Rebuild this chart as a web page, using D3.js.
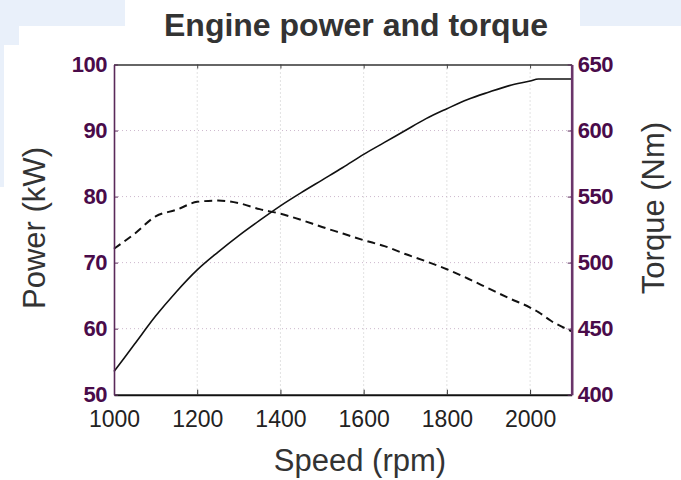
<!DOCTYPE html>
<html>
<head>
<meta charset="utf-8">
<script src="https://cdn.jsdelivr.net/npm/d3@7"></script>
<style>
  html, body { margin: 0; padding: 0; background: #ffffff; }
  svg { display: block; }
</style>
</head>
<body>
<svg id="chart" width="681" height="480"></svg>
<script>
// ---- data ----
const speedRpm = [1000, 1050, 1100, 1150, 1200, 1250, 1300, 1350, 1400, 1450, 1500, 1550,
                  1600, 1650, 1700, 1750, 1800, 1850, 1900, 1950, 2000, 2020, 2050, 2100];
const powerKW = [53.5, 57.7, 61.9, 65.6, 68.9, 71.6, 74.1, 76.4, 78.6, 80.6, 82.5, 84.4,
                 86.4, 88.2, 90.0, 91.8, 93.3, 94.7, 95.8, 96.8, 97.5, 97.8, 97.8, 97.8];
const torqueNm = [510.5, 522, 535, 540, 546, 547, 545, 540.5, 537, 532.3, 527, 522,
                  517, 512.5, 506.5, 501, 495, 488, 480.5, 473, 466, 462.5, 456, 448];
const xTicks = [1000, 1200, 1400, 1600, 1800, 2000];
const powerTicks = [50, 60, 70, 80, 90, 100];
const torqueTicks = [400, 450, 500, 550, 600, 650];
const titleText = "Engine power and torque";
const xLabel = "Speed (rpm)";
const yLeftLabel = "Power (kW)";
const yRightLabel = "Torque (Nm)";

// ---- layout ----
const svg = d3.select("#chart");
const L = 114, R = 571.7, T = 64.5, B = 394.7;
const purpleText = "#4a0b4a";
const font = "'Liberation Sans', Arial, sans-serif";

// background (slide-like)
svg.append("rect").attr("x", 0).attr("y", 0).attr("width", 681).attr("height", 480).attr("fill", "#e9f0fa");
svg.append("rect").attr("x", 125).attr("y", 0).attr("width", 455).attr("height", 480).attr("fill", "#ffffff");
svg.append("rect").attr("x", 19).attr("y", 26).attr("width", 662).attr("height", 454).attr("fill", "#ffffff");
svg.append("rect").attr("x", 4).attr("y", 45).attr("width", 677).attr("height", 435).attr("fill", "#ffffff");
svg.append("rect").attr("x", 0).attr("y", 187).attr("width", 681).attr("height", 293).attr("fill", "#ffffff");

const x = d3.scaleLinear().domain([1000, 2100]).range([L, R]);
const yP = d3.scaleLinear().domain([50, 100]).range([B, T]);
const yT = d3.scaleLinear().domain([400, 650]).range([B, T]);

// grid
const grid = svg.append("g");
grid.selectAll("line.vg").data(xTicks.slice(1)).enter().append("line")
  .attr("x1", d => x(d)).attr("x2", d => x(d)).attr("y1", T).attr("y2", B)
  .attr("stroke", "#c4c4c4").attr("stroke-width", 1).attr("stroke-dasharray", "1,3");
grid.selectAll("line.hg").data(powerTicks.slice(1, -1)).enter().append("line")
  .attr("x1", L).attr("x2", R).attr("y1", d => yP(d)).attr("y2", d => yP(d))
  .attr("stroke", "#cdb8cd").attr("stroke-width", 1).attr("stroke-dasharray", "1,3");

// lines
const powerLine = d3.line().x((d, i) => x(speedRpm[i])).y(d => yP(d)).curve(d3.curveMonotoneX);
const torqueLine = d3.line().x((d, i) => x(speedRpm[i])).y(d => yT(d)).curve(d3.curveMonotoneX);
svg.append("path").attr("d", powerLine(powerKW)).attr("fill", "none")
  .attr("stroke", "#111").attr("stroke-width", 1.6);
svg.append("path").attr("d", torqueLine(torqueNm)).attr("fill", "none")
  .attr("stroke", "#111").attr("stroke-width", 2).attr("stroke-dasharray", "8,5");

// axes
const gTop = svg.append("g").attr("transform", `translate(0,${T})`)
  .call(d3.axisTop(x).tickValues(xTicks).tickSize(-4).tickSizeOuter(0).tickFormat(""));
gTop.select(".domain").attr("stroke", "#333").attr("stroke-width", 1.6);
gTop.selectAll(".tick line").attr("stroke", "#444");

const gBot = svg.append("g").attr("transform", `translate(0,${B})`)
  .call(d3.axisBottom(x).tickValues(xTicks).tickSize(-5).tickSizeOuter(0).tickPadding(16).tickFormat(d3.format("d")));
gBot.select(".domain").attr("stroke", "#111").attr("stroke-width", 2);
gBot.selectAll(".tick line").attr("stroke", "#333");
gBot.selectAll("text").attr("font-family", font).attr("font-size", 23).attr("fill", "#222");

const gLeft = svg.append("g").attr("transform", `translate(${L},0)`)
  .call(d3.axisLeft(yP).tickValues(powerTicks).tickSize(-4).tickSizeOuter(0).tickPadding(7));
gLeft.select(".domain").attr("stroke", "#5a2a5a").attr("stroke-width", 1.6);
gLeft.selectAll(".tick line").attr("stroke", "#5a2a5a");
gLeft.selectAll("text").attr("font-family", font).attr("font-size", 22).attr("font-weight", "bold")
  .attr("fill", purpleText).attr("letter-spacing", "-0.5");

const gRight = svg.append("g").attr("transform", `translate(${R},0)`)
  .call(d3.axisRight(yT).tickValues(torqueTicks).tickSize(-4).tickSizeOuter(0).tickPadding(6));
gRight.select(".domain").attr("stroke", "#6a356a").attr("stroke-width", 2.6);
gRight.selectAll(".tick line").attr("stroke", "#5a2a5a");
gRight.selectAll("text").attr("font-family", font).attr("font-size", 22).attr("font-weight", "bold")
  .attr("fill", purpleText).attr("letter-spacing", "-0.5");

// titles
svg.append("text").attr("x", 356).attr("y", 36).attr("text-anchor", "middle")
  .attr("font-family", font).attr("font-size", 32).attr("font-weight", "bold").attr("fill", "#333")
  .text(titleText);
svg.append("text").attr("x", 360).attr("y", 471).attr("text-anchor", "middle")
  .attr("font-family", font).attr("font-size", 31).attr("fill", "#333").text(xLabel);
svg.append("text").attr("transform", "translate(45,228) rotate(-90)").attr("text-anchor", "middle")
  .attr("font-family", font).attr("font-size", 31).attr("fill", "#333").text(yLeftLabel);
svg.append("text").attr("transform", "translate(664,208) rotate(-90)").attr("text-anchor", "middle")
  .attr("font-family", font).attr("font-size", 31).attr("fill", "#333").text(yRightLabel);
</script>
</body>
</html>
